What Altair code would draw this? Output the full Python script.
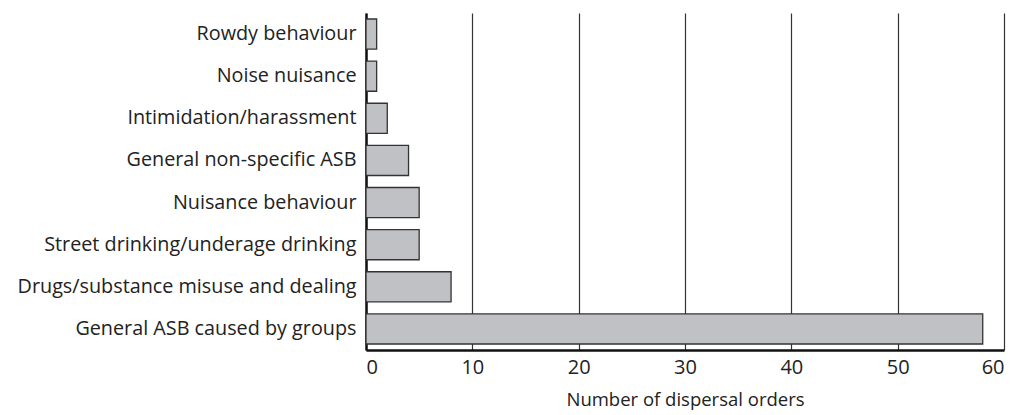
import altair as alt
import pandas as pd

categories = [
    "Rowdy behaviour",
    "Noise nuisance",
    "Intimidation/harassment",
    "General non-specific ASB",
    "Nuisance behaviour",
    "Street drinking/underage drinking",
    "Drugs/substance misuse and dealing",
    "General ASB caused by groups",
]
values = [1, 1, 2, 4, 5, 5, 8, 58]

df = pd.DataFrame({"category": categories, "value": values})

FONT = "Open Sans"

chart = alt.Chart(df).mark_bar(
    color="#c0c1c4", stroke="#333333", strokeWidth=1.3
).encode(
    x=alt.X(
        "value:Q",
        scale=alt.Scale(domain=[0, 60], nice=False),
        axis=alt.Axis(
            values=[0, 10, 20, 30, 40, 50, 60],
            title="Number of dispersal orders",
            grid=True,
            gridColor="#333333",
            gridWidth=1.2,
            domainColor="#111111",
            domainWidth=2.5,
            ticks=False,
            labelPadding=7,
            labelFontSize=20,
            labelFont=FONT,
            labelColor="#222222",
            titleFont=FONT,
            titleFontSize=18.5,
            titleFontWeight="normal",
            titleColor="#222222",
            titlePadding=13,
        ),
    ),
    y=alt.Y(
        "category:N",
        sort=categories,
        scale=alt.Scale(paddingInner=0.286, paddingOuter=0.143),
        axis=alt.Axis(
            title=None,
            ticks=False,
            domainColor="#111111",
            domainWidth=2.5,
            labelPadding=10,
            labelFontSize=19.8,
            labelFont=FONT,
            labelColor="#222222",
            labelLimit=500,
        ),
    ),
).properties(
    width=638,
    height=337,
    autosize=alt.AutoSizeParams(type="none"),
    padding={"left": 358, "top": 5, "right": 5, "bottom": 60},
).configure_view(stroke=None)

chart.save("out.html", embed_options={"renderer": "svg", "actions": False})
